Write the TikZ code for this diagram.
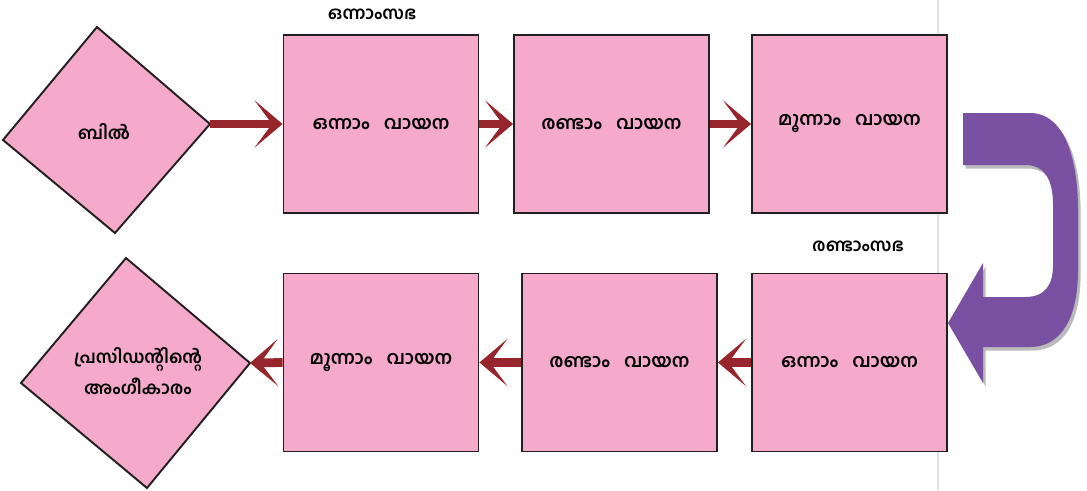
\documentclass[tikz,border=0pt]{standalone}
\usepackage{fontspec}
\usepackage{tikz}
\usetikzlibrary{arrows.meta, positioning, shadows}
\newfontfamily\mlfont[Script=Malayalam]{Hind Kochi}
\definecolor{boxpink}{RGB}{245,170,204}
\definecolor{flowred}{RGB}{150,38,44}
\definecolor{turnpurple}{RGB}{122,80,162}
\definecolor{edgegrey}{RGB}{35,31,32}
\newcommand{\wgap}{\hspace{8pt}}

\begin{document}
\begin{tikzpicture}[
    x=0.02cm, y=-0.02cm,
    font=\mlfont\bfseries\fontsize{10}{18}\selectfont,
    reading/.style={
        rectangle, draw=edgegrey, fill=boxpink, line width=1.1pt,
        minimum width=3.9cm, minimum height=3.56cm, inner sep=0pt,
        font=\mlfont\bfseries\fontsize{10.5}{12}\selectfont
    },
    stagetext/.style={align=center, inner sep=1pt},
    diamondedge/.style={draw=edgegrey, fill=boxpink, line width=1.1pt},
    house/.style={inner sep=1pt, font=\mlfont\bfseries\fontsize{10}{12}\selectfont},
    flow/.style={
        draw=flowred, line width=5pt,
        -{Stealth[length=16pt, width=27pt, inset=10pt]}
    },
    turn/.style={
        fill=turnpurple,
        drop shadow={shadow xshift=1.5pt, shadow yshift=-2pt, fill=black!60, opacity=0.45}
    }
]

% ---- Frame of the page ----
\useasboundingbox (0,0) rectangle (1087,490);
\draw[black!12, line width=0.6pt] (938,0) -- (938,490);

% ---- Corners of the two tilted diamonds ----
\coordinate (bill-t) at (97,27);
\coordinate (bill-r) at (210,124);
\coordinate (bill-b) at (115,233);
\coordinate (bill-l) at (3,140);
\coordinate (assent-t) at (126,258);
\coordinate (assent-r) at (250,363);
\coordinate (assent-b) at (147,488);
\coordinate (assent-l) at (21,383);

\draw[diamondedge] (bill-t) -- (bill-r) -- (bill-b) -- (bill-l) -- cycle;
\draw[diamondedge] (assent-t) -- (assent-r) -- (assent-b) -- (assent-l) -- cycle;

\node[stagetext] (bill)   at (104,132) {ബിൽ};
\node[stagetext] (assent) at (138,371) {പ്രസിഡന്റിന്റെ\\അംഗീകാരം};

% ---- First house: three readings ----
\node[house] (house1) at (372,14) {ഒന്നാംസഭ};
\node[reading] (h1r1) at (381,124)   {ഒന്നാം\wgap വായന};
\node[reading] (h1r2) at (611.5,124) {രണ്ടാം\wgap വായന};
\node[reading] (h1r3) at (849.5,124) {മൂന്നാം\wgap വായന};

% ---- Second house: three readings, right to left ----
\node[house] (house2) at (858,246) {രണ്ടാംസഭ};
\node[reading] (h2r1) at (849.5,362.5) {ഒന്നാം\wgap വായന};
\node[reading] (h2r2) at (619.5,362.5) {രണ്ടാം\wgap വായന};
\node[reading] (h2r3) at (381,362.5)   {മൂന്നാം\wgap വായന};

% ---- Flow between the stages ----
\draw[flow] (bill-r) -- (h1r1.west);
\draw[flow] (h1r1) -- (h1r2);
\draw[flow] (h1r2) -- (h1r3);
\draw[flow] (h2r1) -- (h2r2);
\draw[flow] (h2r2) -- (h2r3);
\draw[flow] (h2r3.west) -- (assent-r);

% ---- The turn from one house to the other ----
\fill[turn] (963,113) -- (1030,113)
    .. controls (1065,113) and (1078,160) .. (1078,210) -- (1078,270)
    .. controls (1078,320) and (1060,347) .. (1030,347) -- (983,347)
    -- (983,383) -- (948,323) -- (983,263) -- (983,297) -- (1025,297)
    .. controls (1045,297) and (1053,285) .. (1053,265) -- (1053,205)
    .. controls (1053,180) and (1045,165) .. (1025,165) -- (963,165) -- cycle;

\end{tikzpicture}
\end{document}
